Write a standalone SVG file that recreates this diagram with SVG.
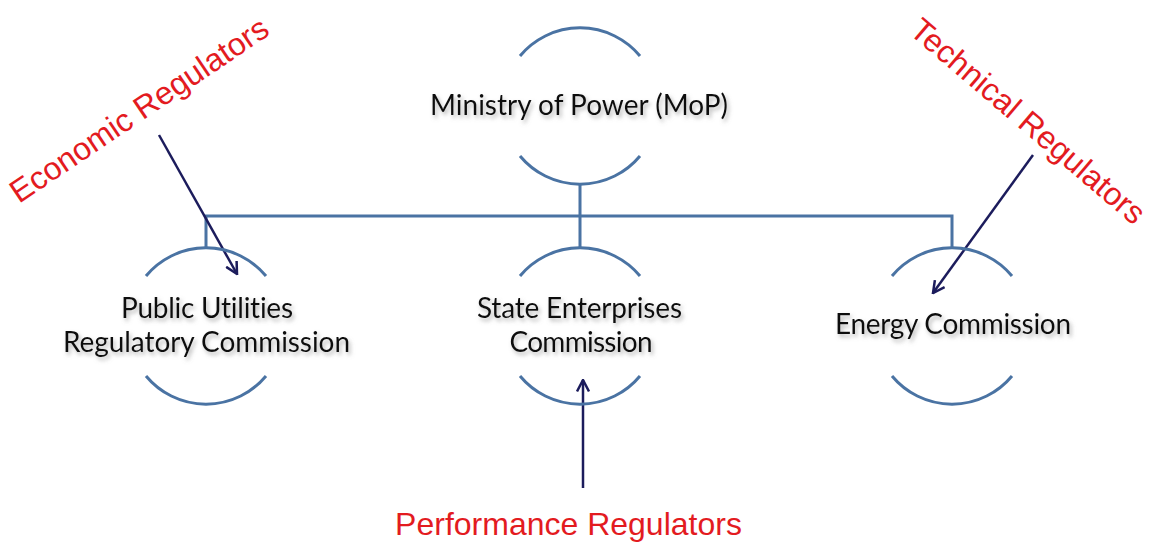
<svg xmlns="http://www.w3.org/2000/svg" width="1162" height="543" viewBox="0 0 1162 543">
<style>
.arc{fill:none;stroke:#4a73a3;stroke-width:3}
.con{fill:none;stroke:#4a73a3;stroke-width:3}
.arr{fill:none;stroke:#1c1c5c;stroke-width:2.5}
.lbl{font-family:Lato,"Open Sans",sans-serif;font-size:28px;fill:#111;text-anchor:middle;font-variant-ligatures:none;filter:url(#sh)}
.red{font-family:"Liberation Sans",Arial,sans-serif;font-size:32px;fill:#e31b1f}
</style>
<defs>
<filter id="sh" x="-10%" y="-30%" width="120%" height="170%">
<feDropShadow dx="2" dy="3" stdDeviation="2" flood-color="#777" flood-opacity="0.55"/>
</filter>
<marker id="ah" viewBox="0 0 14 14" refX="12.5" refY="7" markerWidth="14" markerHeight="14" markerUnits="userSpaceOnUse" orient="auto">
<path d="M1,1 L12.5,7 L1,13" fill="none" stroke="#1c1c5c" stroke-width="2.5"/>
</marker>
</defs>
<rect width="1162" height="543" fill="#fff"/>
<g id="connectors">
<path class="con" d="M580,184 V248 M206,248 V216 H952 V248"/>
<line class="arr" x1="159" y1="135" x2="237" y2="274" marker-end="url(#ah)"/>
<line class="arr" x1="1033" y1="155" x2="933" y2="293" marker-end="url(#ah)"/>
<line class="arr" x1="583" y1="488" x2="583" y2="380" marker-end="url(#ah)"/>
</g>
<g id="mop">
<path class="arc" d="M520,56 A78,78 0 0 1 640,56 M520,156 A78,78 0 0 0 640,156"/>
<text class="lbl" x="579" y="115" textLength="298">Ministry of Power (MoP)</text>
</g>
<g id="puc">
<path class="arc" d="M146,276 A78,78 0 0 1 266,276 M146,376 A78,78 0 0 0 266,376"/>
<text class="lbl" x="207" y="318" textLength="172">Public Utilities</text>
<text class="lbl" x="206.5" y="352" textLength="287">Regulatory Commission</text>
</g>
<g id="sec">
<path class="arc" d="M520,276 A78,78 0 0 1 640,276 M520,376 A78,78 0 0 0 640,376"/>
<text class="lbl" x="579.5" y="318" textLength="205">State Enterprises</text>
<text class="lbl" x="581" y="352" textLength="143">Commission</text>
</g>
<g id="ec">
<path class="arc" d="M892,276 A78,78 0 0 1 1012,276 M892,376 A78,78 0 0 0 1012,376"/>
<text class="lbl" x="953" y="334" textLength="236">Energy Commission</text>
</g>
<g id="economic">
<text class="red" transform="translate(19,204) rotate(-34)">Economic Regulators</text>
</g>
<g id="technical">
<text class="red" transform="translate(908,33) rotate(40.5)">Technical Regulators</text>
</g>
<g id="performance">
<text class="red" x="568.5" y="535" text-anchor="middle">Performance Regulators</text>
</g>
</svg>
